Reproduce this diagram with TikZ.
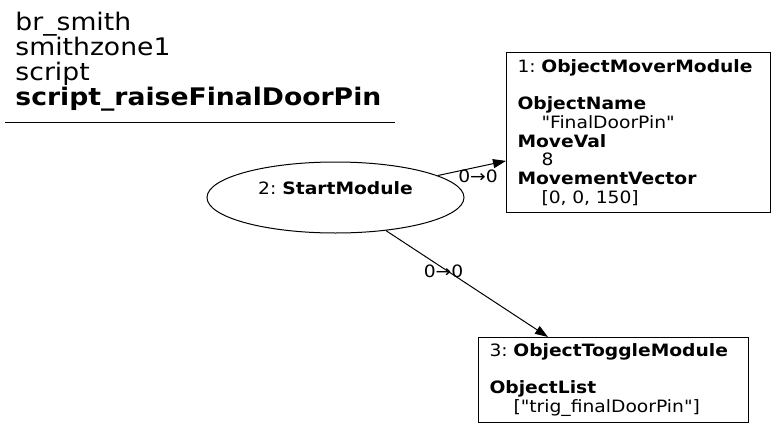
\documentclass[tikz,border=0pt]{standalone}
\usepackage{fontspec}
\setmainfont{DejaVu Sans}[FakeStretch=1.1, Ligatures=TeXOff]
\usetikzlibrary{shapes.geometric,arrows.meta}
\frenchspacing
\setlength{\lineskiplimit}{-20pt}
\tikzset{
  module/.style={draw, rectangle, align=left, inner xsep=11pt, inner ysep=0pt, font=\fontsize{17}{18.7}\selectfont},
  startnode/.style={draw, ellipse, minimum width=257pt, minimum height=71pt, inner sep=0pt},
  flow/.style={-{Triangle[length=13pt,width=9pt]}},
  edgelbl/.style={font=\fontsize{17}{18.7}\selectfont, inner sep=2pt},
}
\begin{document}
\begin{tikzpicture}[x=1pt, y=-1pt, line width=1pt]
            \useasboundingbox (0,0) rectangle (776,428);
            \node[anchor=north west, align=left, inner sep=0pt, font=\fontsize{24.2}{25}\selectfont] (title) at (15,11.6) {br\_smith\\smithzone1\\script\\\textbf{script\_raiseFinalDoorPin}};
            \coordinate (ruleL) at (5,122.5);
            \coordinate (ruleR) at (395,122.5);
            \draw (ruleL) -- (ruleR);

            \node[startnode] (start) at (335.5,197.5) {};
            \node[edgelbl] (startlbl) at (335.5,188) {2: \textbf{StartModule}};
            \node[module, text width=242pt, minimum height=160pt, anchor=north west] (mover) at (506,52) {1: \textbf{ObjectMoverModule}\\ \mbox{}\\ \textbf{ObjectName}\\ \hspace*{24pt}"FinalDoorPin"\\ \textbf{MoveVal}\\ \hspace*{24pt}8\\ \textbf{MovementVector}\\ \hspace*{24pt}[0, 0, 150]};
            \node[module, text width=248pt, minimum height=85pt, anchor=north west] (toggle) at (478,337) {3: \textbf{ObjectToggleModule}\\ \mbox{}\\ \textbf{ObjectList}\\ \hspace*{24pt}["trig\_finalDoorPin"]};

            \draw[flow] (start) to node[pos=0.59, below, edgelbl] {0→0} (mover);
            \draw[flow] (start) to node[pos=0.38, xshift=-4pt, edgelbl] {0→0} (toggle);
        \end{tikzpicture}
\end{document}
